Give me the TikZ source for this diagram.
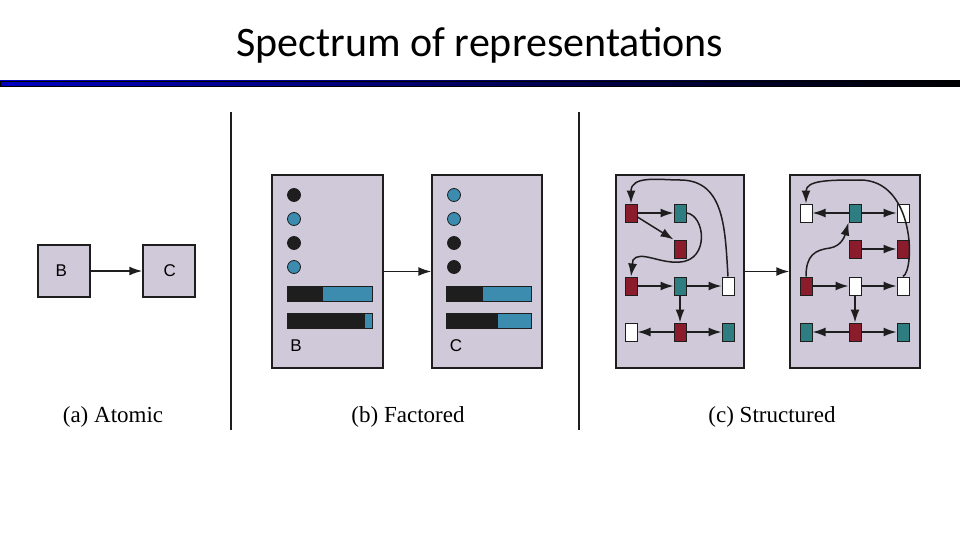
\documentclass[tikz,border=0pt]{standalone}
\usepackage{fontspec}
\setmainfont{Liberation Serif}
\newfontfamily\titlef{Carlito}
\newfontfamily\sansf{Liberation Sans}
\usetikzlibrary{arrows.meta}
\definecolor{lav}{HTML}{CFC9D9}
\definecolor{rd}{HTML}{8A1C2C}
\definecolor{tl}{HTML}{2E7D80}
\definecolor{bl}{HTML}{3C8CB0}
\definecolor{bk}{HTML}{1E1E1E}
\begin{document}
\begin{tikzpicture}[x=1pt,y=-1pt,
 panel/.style={draw=bk,line width=1.5pt,fill=lav},
 sq/.style={draw=bk,line width=1pt,minimum width=12pt,minimum height=18pt,inner sep=0pt},
 R/.style={sq,fill=rd},T/.style={sq,fill=tl},W/.style={sq,fill=white},
 ar/.style={line width=1.5pt,draw=bk,-{Latex[length=13pt,width=9pt]}},
 dot/.style={circle,draw=bk,line width=0.8pt,minimum size=13pt,inner sep=0pt},
 lab/.style={font=\sansf\fontsize{17}{17}\selectfont},
 captxt/.style={font=\fontsize{23}{23}\selectfont}]
\useasboundingbox (0,0) rectangle (960,540);
\node (title) at (480,45) {\titlef\fontsize{42}{42}\selectfont Spectrum of representations};
\shade[left color=blue!75!black,right color=black] (0,81) rectangle (960,86);
\draw[line width=0.5pt] (0,81) rectangle (960,86);
\coordinate (v1t) at (231,112); \coordinate (v1b) at (231,430);
\coordinate (v2t) at (579,112); \coordinate (v2b) at (579,430);
\draw[line width=1.5pt,bk] (v1t)--(v1b) (v2t)--(v2b);
% atomic
\node[panel,minimum width=52pt,minimum height=52pt] (B) at (64,271) {};
\node[lab,anchor=west] (Bl) at (52,271) {B};
\node[panel,minimum width=52pt,minimum height=52pt] (C) at (169,271) {};
\node[lab,anchor=west] (Cl) at (160,271) {C};
\draw[ar] (B) -- (C);
\node[captxt] (ca) at (113,417) {(a) Atomic};
% factored
\node[panel,minimum width=111pt,minimum height=193pt] (FB) at (327.5,271.5) {};
\node[panel,minimum width=110pt,minimum height=193pt] (FC) at (487,271.5) {};
\draw[ar] (FB) -- (FC);
\foreach \y/\c [count=\i] in {195/bk,219/bl,243/bk,267/bl}{\node[dot,fill=\c] (b\i) at (294,\y) {};}
\foreach \y/\c [count=\i] in {195/bl,219/bl,243/bk,267/bk}{\node[dot,fill=\c] (c\i) at (454,\y) {};}
\begin{scope}[draw=bk,line width=0.8pt]
\filldraw[fill=bl] (287,286) rectangle (372,301); \fill[bk] (287,286) rectangle (323,301);
\filldraw[fill=bl] (287,313) rectangle (372,328); \fill[bk] (287,313) rectangle (365,328);
\filldraw[fill=bl] (446,286) rectangle (531,301); \fill[bk] (446,286) rectangle (483,301);
\filldraw[fill=bl] (446,313) rectangle (531,328); \fill[bk] (446,313) rectangle (498,328);
\end{scope}
\node[lab] (Bf) at (296,346) {B};
\node[lab] (Cf) at (456,346) {C};
\node[captxt] (cb) at (408,417) {(b) Factored};
% structured
\node[panel,minimum width=128pt,minimum height=193pt] (SL) at (680,271.5) {};
\node[panel,minimum width=130pt,minimum height=193pt] (SR) at (855,271.5) {};
\draw[ar] (SL) -- (SR);
\node[R] (a1) at (631,213) {}; \node[T] (a2) at (680,213) {};
\node[R] (a3) at (680,249) {};
\node[R] (a4) at (631,286) {}; \node[T] (a5) at (680,286) {}; \node[W] (a6) at (728,286) {};
\node[W] (a7) at (631,332) {}; \node[R] (a8) at (680,332) {}; \node[T] (a9) at (728,332) {};
\draw[ar] (a1)--(a2); \draw[ar] (a1)--(a3.north west);
\draw[ar] (a4)--(a5); \draw[ar] (a5)--(a6); \draw[ar] (a5)--(a8);
\draw[ar] (a8)--(a7); \draw[ar] (a8)--(a9);
\draw[ar] (a2.east) .. controls (705,215) and (710,260) .. (680,262) .. controls (660,264) and (640,250) .. (633,260) -- (a4.north);
\draw[ar] (a6.north) .. controls (725,230) and (725,180) .. (680,180) .. controls (660,180) and (631,175) .. (a1.north);
\node[W] (d1) at (806,213) {}; \node[T] (d2) at (855,213) {}; \node[W] (d3) at (903,213) {};
\node[R] (d4) at (855,249) {}; \node[R] (d5) at (903,249) {};
\node[R] (d6) at (806,286) {}; \node[W] (d7) at (855,286) {}; \node[W] (d8) at (903,286) {};
\node[T] (d9) at (806,332) {}; \node[R] (d10) at (855,332) {}; \node[T] (d11) at (903,332) {};
\draw[ar] (d2)--(d1); \draw[ar] (d2)--(d3); \draw[ar] (d4)--(d5);
\draw[ar] (d6)--(d7); \draw[ar] (d7)--(d8); \draw[ar] (d7)--(d10);
\draw[ar] (d10)--(d9); \draw[ar] (d10)--(d11);
\draw[ar] (d6.north) .. controls (806,255) and (815,250) .. (830,248) .. controls (842,246) and (845,235) .. (d2.south west);
\draw[ar] (d8.north) .. controls (915,270) and (915,180) .. (860,180) .. controls (830,180) and (806,180) .. (d1.north);
\node[captxt] (cc) at (772,417) {(c) Structured};
\end{tikzpicture}
\end{document}
